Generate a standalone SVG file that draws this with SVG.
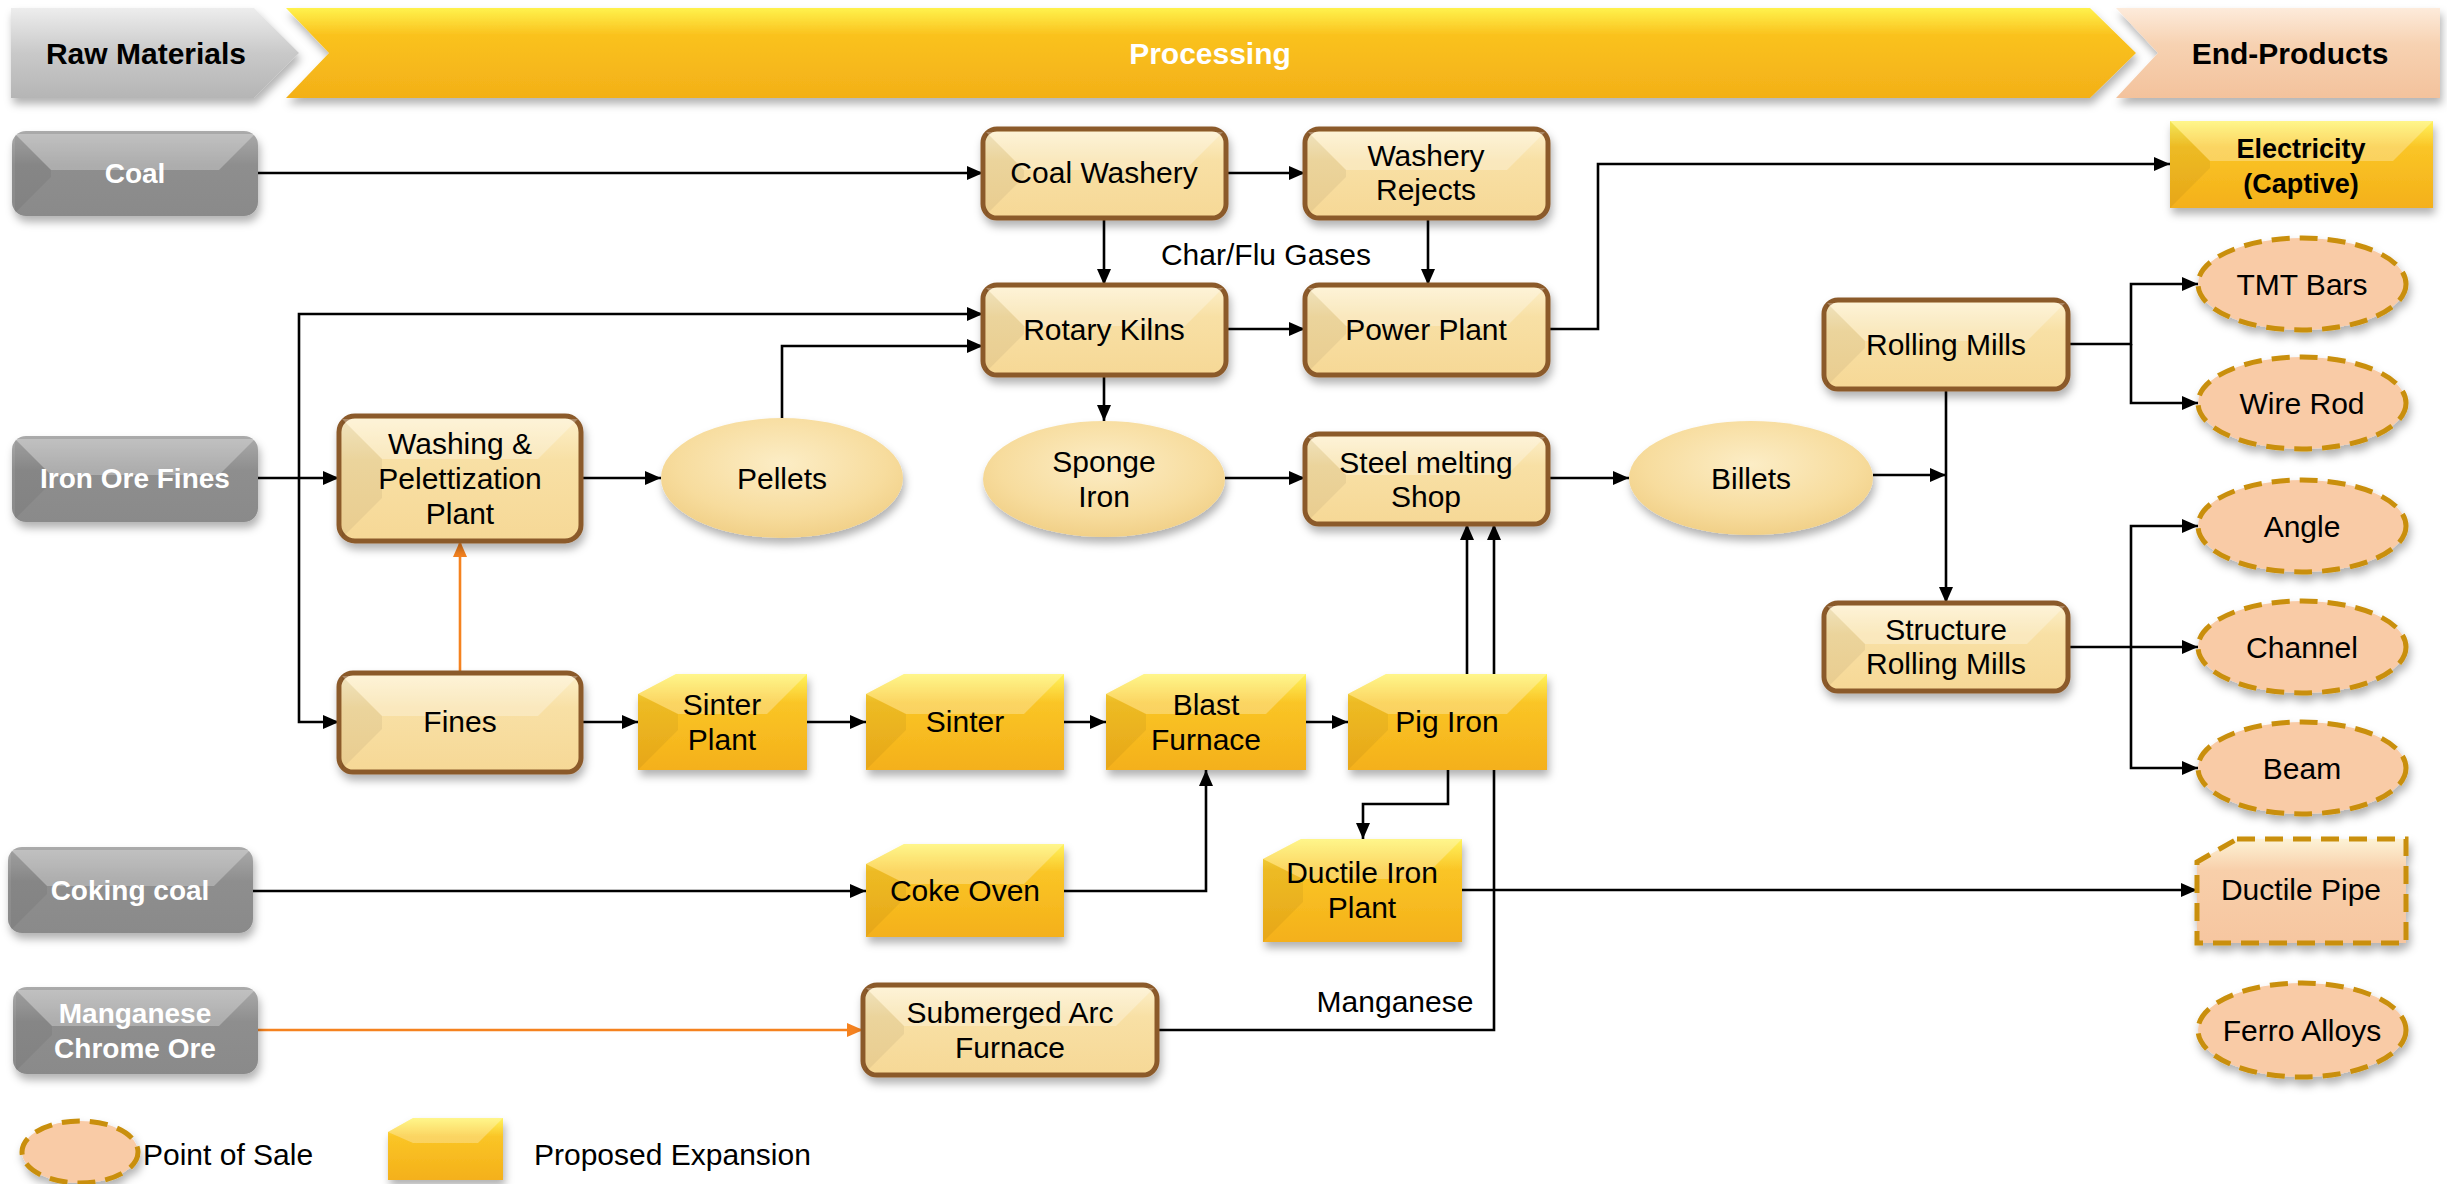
<svg xmlns="http://www.w3.org/2000/svg" width="2447" height="1184" viewBox="0 0 2447 1184">
<defs>
<style>
text{font-family:"Liberation Sans",Arial,sans-serif}
.t{font-size:30px;fill:#000;text-anchor:middle}
.tl{font-size:30px;fill:#000}
.tw{font-size:28px;font-weight:bold;fill:#fff;text-anchor:middle}
.th{font-size:30px;font-weight:bold;text-anchor:middle}
.te{font-size:27px;font-weight:bold;fill:#000;text-anchor:middle}
.ln{fill:none;stroke:#000;stroke-width:2.6}
.lo{fill:none;stroke:#F5821F;stroke-width:2.6}
.cream{fill:url(#gCream);stroke:#8B5A2B;stroke-width:5}
.gold{fill:url(#gGold)}
.gray{fill:url(#gGray)}
.ell{fill:url(#gEll)}
.pos{fill:#F9CBA6;stroke:#C98F0A;stroke-width:5;stroke-dasharray:18 10}
.dp{fill:url(#gPeach);stroke:#C98F0A;stroke-width:5;stroke-dasharray:18 10}
.bt{fill:#fff;fill-opacity:.28}
.bl{fill:#000;fill-opacity:.05}
</style>
<filter id="sh" x="-10%" y="-15%" width="125%" height="150%">
<feDropShadow dx="2" dy="6" stdDeviation="4" flood-color="#000" flood-opacity="0.3"/>
</filter>
<linearGradient id="gGold" x1="0" y1="0" x2="0" y2="1">
<stop offset="0" stop-color="#FFF35E"/><stop offset=".3" stop-color="#FAC526"/><stop offset="1" stop-color="#F4B01A"/>
</linearGradient>
<linearGradient id="gCream" x1="0" y1="0" x2="0" y2="1">
<stop offset="0" stop-color="#FDF0CB"/><stop offset=".35" stop-color="#F8E0A5"/><stop offset="1" stop-color="#F6D896"/>
</linearGradient>
<linearGradient id="gGray" x1="0" y1="0" x2="0" y2="1">
<stop offset="0" stop-color="#ABABAB"/><stop offset=".4" stop-color="#8E8E8E"/><stop offset="1" stop-color="#8A8A8A"/>
</linearGradient>
<radialGradient id="gEll" cx=".5" cy=".38" r=".62">
<stop offset="0" stop-color="#FCEDC6"/><stop offset=".7" stop-color="#F7DC9D"/><stop offset="1" stop-color="#F1D088"/>
</radialGradient>
<linearGradient id="gPeach" x1="0" y1="0" x2="0" y2="1">
<stop offset="0" stop-color="#FDF3D6"/><stop offset=".3" stop-color="#F8CFAA"/><stop offset="1" stop-color="#F6C6A0"/>
</linearGradient>
<linearGradient id="gHGray" x1="0" y1="0" x2="0" y2="1">
<stop offset="0" stop-color="#EDEDED"/><stop offset=".5" stop-color="#C9C9C9"/><stop offset="1" stop-color="#B5B5B5"/>
</linearGradient>
<linearGradient id="gHGold" x1="0" y1="0" x2="0" y2="1">
<stop offset="0" stop-color="#FFF24C"/><stop offset=".3" stop-color="#FAC21E"/><stop offset="1" stop-color="#F3B018"/>
</linearGradient>
<linearGradient id="gHPeach" x1="0" y1="0" x2="0" y2="1">
<stop offset="0" stop-color="#FDEBDB"/><stop offset=".4" stop-color="#F7D2B2"/><stop offset="1" stop-color="#F3C29C"/>
</linearGradient>
<marker id="ah" viewBox="0 0 16 14" refX="16" refY="7" markerWidth="16" markerHeight="14" markerUnits="userSpaceOnUse" orient="auto"><path d="M0,0L16,7L0,14z" fill="#000"/></marker>
<marker id="ao" viewBox="0 0 16 14" refX="16" refY="7" markerWidth="16" markerHeight="14" markerUnits="userSpaceOnUse" orient="auto"><path d="M0,0L16,7L0,14z" fill="#F5821F"/></marker>
</defs>
<rect width="2447" height="1184" fill="#fff"/>

<g id="header">
<g id="hdr-raw"><polygon points="11,8 254,8 299,53 254,98 11,98" fill="url(#gHGray)" filter="url(#sh)"/><text class="th" x="146" y="64">Raw Materials</text></g>
<g id="hdr-processing"><polygon points="286,8 2090,8 2136,53 2090,98 286,98 329,53" fill="url(#gHGold)" filter="url(#sh)"/><text class="th" x="1210" y="64" fill="#fff">Processing</text></g>
<g id="hdr-end"><polygon points="2116,8 2440,8 2440,98 2116,98 2158,53" fill="url(#gHPeach)" filter="url(#sh)"/><text class="th" x="2290" y="64">End-Products</text></g>
</g>

<g id="connectors">
<path class="ln" d="M258,173H983" marker-end="url(#ah)"/>
<path class="ln" d="M1226,173H1305" marker-end="url(#ah)"/>
<path class="ln" d="M1104,218V285" marker-end="url(#ah)"/>
<path class="ln" d="M1428,218V285" marker-end="url(#ah)"/>
<path class="ln" d="M1226,329H1305" marker-end="url(#ah)"/>
<path class="ln" d="M1548,329H1598V164H2170" marker-end="url(#ah)"/>
<path class="ln" d="M258,478H339" marker-end="url(#ah)"/>
<path class="ln" d="M299,478V314H983" marker-end="url(#ah)"/>
<path class="ln" d="M299,478V722H339" marker-end="url(#ah)"/>
<path class="ln" d="M782,419V346H983" marker-end="url(#ah)"/>
<path class="ln" d="M581,478H661" marker-end="url(#ah)"/>
<path class="lo" d="M460,673V541" marker-end="url(#ao)"/>
<path class="ln" d="M1104,375V421" marker-end="url(#ah)"/>
<path class="ln" d="M1225,478H1305" marker-end="url(#ah)"/>
<path class="ln" d="M1548,478H1629" marker-end="url(#ah)"/>
<path class="ln" d="M1873,475H1946" marker-end="url(#ah)"/>
<path class="ln" d="M1946,389V603" marker-end="url(#ah)"/>
<path class="ln" d="M2068,344H2131V284H2198" marker-end="url(#ah)"/>
<path class="ln" d="M2131,344V403H2198" marker-end="url(#ah)"/>
<path class="ln" d="M2068,647H2198" marker-end="url(#ah)"/>
<path class="ln" d="M2131,647V526H2198" marker-end="url(#ah)"/>
<path class="ln" d="M2131,647V768H2198" marker-end="url(#ah)"/>
<path class="ln" d="M581,722H638" marker-end="url(#ah)"/>
<path class="ln" d="M807,722H866" marker-end="url(#ah)"/>
<path class="ln" d="M1064,722H1106" marker-end="url(#ah)"/>
<path class="ln" d="M1306,722H1348" marker-end="url(#ah)"/>
<path class="ln" d="M253,891H866" marker-end="url(#ah)"/>
<path class="ln" d="M1064,891H1206V770" marker-end="url(#ah)"/>
<path class="ln" d="M1467,674V524" marker-end="url(#ah)"/>
<path class="ln" d="M1448,770V804H1363V839" marker-end="url(#ah)"/>
<path class="ln" d="M1462,890H2197" marker-end="url(#ah)"/>
<path class="lo" d="M258,1030H863" marker-end="url(#ao)"/>
<path class="ln" d="M1157,1030H1494V524" marker-end="url(#ah)"/>
<text class="t" x="1266" y="265">Char/Flu Gases</text>
<text class="t" x="1395" y="1012">Manganese</text>
</g>

<g id="coal"><rect class="gray" x="12" y="131" width="246" height="85" rx="14" filter="url(#sh)"/><polygon class="bt" points="15,134 255,134 219,170 51,170"/><polygon class="bl" points="15,134 51,170 51,177 15,213"/><text class="tw" x="135" y="183">Coal</text></g>
<g id="iron-ore-fines"><rect class="gray" x="12" y="436" width="246" height="86" rx="14" filter="url(#sh)"/><polygon class="bt" points="15,439 255,439 219,475 51,475"/><polygon class="bl" points="15,439 51,475 51,483 15,519"/><text class="tw" x="135" y="488">Iron Ore Fines</text></g>
<g id="coking-coal"><rect class="gray" x="8" y="847" width="245" height="86" rx="14" filter="url(#sh)"/><polygon class="bt" points="11,850 250,850 214,886 47,886"/><polygon class="bl" points="11,850 47,886 47,894 11,930"/><text class="tw" x="130" y="900">Coking coal</text></g>
<g id="manganese-chrome-ore"><rect class="gray" x="13" y="987" width="245" height="87" rx="14" filter="url(#sh)"/><polygon class="bt" points="16,990 255,990 219,1026 52,1026"/><polygon class="bl" points="16,990 52,1026 52,1035 16,1071"/><text class="tw" x="135" y="1023">Manganese</text><text class="tw" x="135" y="1058">Chrome Ore</text></g>

<g id="coal-washery"><rect class="cream" x="983" y="129" width="243" height="89" rx="14" filter="url(#sh)"/><polygon class="bt" points="986,132 1223,132 1185,170 1024,170"/><polygon class="bl" points="986,132 1024,170 1024,177 986,215"/><text class="t" x="1104" y="183">Coal Washery</text></g>
<g id="washery-rejects"><rect class="cream" x="1305" y="129" width="243" height="89" rx="14" filter="url(#sh)"/><polygon class="bt" points="1308,132 1545,132 1507,170 1346,170"/><polygon class="bl" points="1308,132 1346,170 1346,177 1308,215"/><text class="t" x="1426" y="166">Washery</text><text class="t" x="1426" y="200">Rejects</text></g>
<g id="rotary-kilns"><rect class="cream" x="983" y="285" width="243" height="90" rx="14" filter="url(#sh)"/><polygon class="bt" points="986,288 1223,288 1185,326 1024,326"/><polygon class="bl" points="986,288 1024,326 1024,334 986,372"/><text class="t" x="1104" y="340">Rotary Kilns</text></g>
<g id="power-plant"><rect class="cream" x="1305" y="285" width="243" height="90" rx="14" filter="url(#sh)"/><polygon class="bt" points="1308,288 1545,288 1507,326 1346,326"/><polygon class="bl" points="1308,288 1346,326 1346,334 1308,372"/><text class="t" x="1426" y="340">Power Plant</text></g>
<g id="washing-pelettization"><rect class="cream" x="339" y="416" width="242" height="125" rx="16" filter="url(#sh)"/><polygon class="bt" points="342,419 578,419 538,459 382,459"/><polygon class="bl" points="342,419 382,459 382,498 342,538"/><text class="t" x="460" y="454">Washing &amp;</text><text class="t" x="460" y="489">Pelettization</text><text class="t" x="460" y="524">Plant</text></g>
<g id="fines"><rect class="cream" x="339" y="673" width="242" height="99" rx="14" filter="url(#sh)"/><polygon class="bt" points="342,676 578,676 538,716 382,716"/><polygon class="bl" points="342,676 382,716 382,729 342,769"/><text class="t" x="460" y="732">Fines</text></g>
<g id="steel-melting-shop"><rect class="cream" x="1305" y="434" width="243" height="90" rx="14" filter="url(#sh)"/><polygon class="bt" points="1308,437 1545,437 1507,475 1346,475"/><polygon class="bl" points="1308,437 1346,475 1346,483 1308,521"/><text class="t" x="1426" y="473">Steel melting</text><text class="t" x="1426" y="507">Shop</text></g>
<g id="rolling-mills"><rect class="cream" x="1824" y="300" width="244" height="89" rx="14" filter="url(#sh)"/><polygon class="bt" points="1827,303 2065,303 2027,341 1865,341"/><polygon class="bl" points="1827,303 1865,341 1865,348 1827,386"/><text class="t" x="1946" y="355">Rolling Mills</text></g>
<g id="structure-rolling-mills"><rect class="cream" x="1824" y="603" width="244" height="88" rx="14" filter="url(#sh)"/><polygon class="bt" points="1827,606 2065,606 2027,644 1865,644"/><polygon class="bl" points="1827,606 1865,644 1865,650 1827,688"/><text class="t" x="1946" y="640">Structure</text><text class="t" x="1946" y="674">Rolling Mills</text></g>
<g id="submerged-arc-furnace"><rect class="cream" x="863" y="985" width="294" height="90" rx="14" filter="url(#sh)"/><polygon class="bt" points="866,988 1154,988 1116,1026 904,1026"/><polygon class="bl" points="866,988 904,1026 904,1034 866,1072"/><text class="t" x="1010" y="1023">Submerged Arc</text><text class="t" x="1010" y="1058">Furnace</text></g>

<g id="pellets"><ellipse class="ell" cx="782" cy="478" rx="121" ry="60" filter="url(#sh)"/><text class="t" x="782" y="489">Pellets</text></g>
<g id="sponge-iron"><ellipse class="ell" cx="1104" cy="479" rx="121" ry="58" filter="url(#sh)"/><text class="t" x="1104" y="472">Sponge</text><text class="t" x="1104" y="507">Iron</text></g>
<g id="billets"><ellipse class="ell" cx="1751" cy="478" rx="122" ry="57" filter="url(#sh)"/><text class="t" x="1751" y="489">Billets</text></g>

<g id="sinter-plant"><path class="gold" d="M676,674H807V770H638V694Z" filter="url(#sh)"/><polygon class="bt" points="638,694 676,674 807,674 767,714 678,714"/><polygon class="bl" points="638,694 678,714 678,730 638,770"/><text class="t" x="722" y="715">Sinter</text><text class="t" x="722" y="750">Plant</text></g>
<g id="sinter"><path class="gold" d="M904,674H1064V770H866V694Z" filter="url(#sh)"/><polygon class="bt" points="866,694 904,674 1064,674 1024,714 906,714"/><polygon class="bl" points="866,694 906,714 906,730 866,770"/><text class="t" x="965" y="732">Sinter</text></g>
<g id="blast-furnace"><path class="gold" d="M1144,674H1306V770H1106V694Z" filter="url(#sh)"/><polygon class="bt" points="1106,694 1144,674 1306,674 1266,714 1146,714"/><polygon class="bl" points="1106,694 1146,714 1146,730 1106,770"/><text class="t" x="1206" y="715">Blast</text><text class="t" x="1206" y="750">Furnace</text></g>
<g id="pig-iron"><path class="gold" d="M1386,674H1547V770H1348V694Z" filter="url(#sh)"/><polygon class="bt" points="1348,694 1386,674 1547,674 1507,714 1388,714"/><polygon class="bl" points="1348,694 1388,714 1388,730 1348,770"/><text class="t" x="1447" y="732">Pig Iron</text></g>
<g id="coke-oven"><path class="gold" d="M904,844H1064V937H866V864Z" filter="url(#sh)"/><polygon class="bt" points="866,864 904,844 1064,844 1024,884 906,884"/><polygon class="bl" points="866,864 906,884 906,897 866,937"/><text class="t" x="965" y="901">Coke Oven</text></g>
<g id="ductile-iron-plant"><path class="gold" d="M1301,839H1462V942H1263V859Z" filter="url(#sh)"/><polygon class="bt" points="1263,859 1301,839 1462,839 1422,879 1303,879"/><polygon class="bl" points="1263,859 1303,879 1303,902 1263,942"/><text class="t" x="1362" y="883">Ductile Iron</text><text class="t" x="1362" y="918">Plant</text></g>

<g id="electricity"><rect class="gold" x="2170" y="121" width="263" height="87" filter="url(#sh)"/><polygon class="bt" points="2170,121 2433,121 2393,161 2210,161"/><polygon class="bl" points="2170,121 2210,161 2210,168 2170,208"/><text class="te" x="2301" y="158">Electricity</text><text class="te" x="2301" y="193">(Captive)</text></g>
<g id="tmt-bars"><ellipse class="pos" cx="2302" cy="284" rx="104" ry="46" filter="url(#sh)"/><text class="t" x="2302" y="295">TMT Bars</text></g>
<g id="wire-rod"><ellipse class="pos" cx="2302" cy="403" rx="104" ry="46" filter="url(#sh)"/><text class="t" x="2302" y="414">Wire Rod</text></g>
<g id="angle"><ellipse class="pos" cx="2302" cy="526" rx="104" ry="46" filter="url(#sh)"/><text class="t" x="2302" y="537">Angle</text></g>
<g id="channel"><ellipse class="pos" cx="2302" cy="647" rx="104" ry="46" filter="url(#sh)"/><text class="t" x="2302" y="658">Channel</text></g>
<g id="beam"><ellipse class="pos" cx="2302" cy="768" rx="104" ry="46" filter="url(#sh)"/><text class="t" x="2302" y="779">Beam</text></g>
<g id="ductile-pipe"><path class="dp" d="M2237,839H2406V943H2197V862Z" filter="url(#sh)"/><text class="t" x="2301" y="900">Ductile Pipe</text></g>
<g id="ferro-alloys"><ellipse class="pos" cx="2302" cy="1030" rx="104" ry="47" filter="url(#sh)"/><text class="t" x="2302" y="1041">Ferro Alloys</text></g>

<g id="legend">
<ellipse class="pos" cx="80" cy="1152" rx="58" ry="31" filter="url(#sh)"/>
<text class="tl" x="143" y="1165">Point of Sale</text>
<path class="gold" d="M413,1118H503V1180H388V1132Z" filter="url(#sh)"/>
<polygon class="bt" points="388,1132 413,1118 503,1118 478,1143 413,1143"/>
<text class="tl" x="534" y="1165">Proposed Expansion</text>
</g>
</svg>
